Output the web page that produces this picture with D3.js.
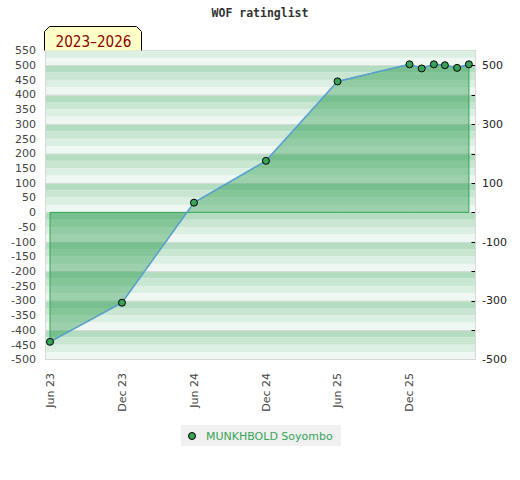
<!DOCTYPE html>
<html><head><meta charset="utf-8">
<script src="https://cdn.jsdelivr.net/npm/d3@7"></script>
<style>body{margin:0;background:#fff}svg{display:block}</style>
</head><body>
<script>
const title = "WOF ratinglist";
const periodLabel = "2023\u20132026";
const seriesName = "MUNKHBOLD Soyombo";
const dates = ["2023-06","2023-12","2024-06","2024-12","2025-06","2025-12","2026-01","2026-02","2026-03","2026-04","2026-05"];
const ratings = [-440, -307, 33, 175, 445, 503, 489, 503, 500, 491, 503];
const leftTicks = d3.range(-500, 551, 50);
const rightLabelTicks = [500, 300, 100, -100, -300, -500];
const rightMarkTicks = [500, 400, 300, 200, 100, 0, -100, -200, -300, -400];
const xTickDates = ["2023-06","2023-12","2024-06","2024-12","2025-06","2025-12"];
const xTickLabels = ["Jun 23","Dec 23","Jun 24","Dec 24","Jun 25","Dec 25"];

const W = 520, H = 480;
const plot = {l: 45, r: 476, t: 50.5, b: 359.5};
const parse = d3.timeParse("%Y-%m");
const svg = d3.select("body").append("svg").attr("width", W).attr("height", H);

const x = d3.scaleTime().domain([parse("2023-06"), parse("2025-12")]).range([50, 409.5]);
const y = d3.scaleLinear().domain([-500, 550]).range([plot.b, plot.t]);

// stripes
const bandColors = {0: "#b3dcc1", 75: "#c8e6d2", 50: "#dcefe3", 25: "#eef7f1"};
const bands = d3.range(550, -500, -25);
svg.append("g").selectAll("rect").data(bands).join("rect")
  .attr("x", plot.l).attr("width", plot.r - plot.l)
  .attr("y", d => y(d)).attr("height", d => y(d - 25) - y(d))
  .attr("fill", d => bandColors[((d % 100) + 100) % 100]);

// grid lines
svg.append("g").selectAll("line").data(d3.range(-400, 501, 100)).join("line")
  .attr("x1", plot.l).attr("x2", plot.r)
  .attr("y1", d => Math.round(y(d)) + 0.5).attr("y2", d => Math.round(y(d)) + 0.5)
  .attr("stroke", "#d4dcd6").attr("stroke-width", 1);

// frame
svg.append("rect").attr("x", plot.l + 0.5).attr("y", plot.t).attr("width", plot.r - plot.l - 1).attr("height", plot.b - plot.t)
  .attr("fill", "none").attr("stroke", "#d8d8d8");

const pts = dates.map((d, i) => ({date: parse(d), v: ratings[i]}));

// area
const area = d3.area().x(d => x(d.date)).y0(y(0)).y1(d => y(d.v));
svg.append("path")
  .attr("d", area(pts) + "Z")
  .attr("fill", "rgb(15,142,54)").attr("fill-opacity", 0.36)
  .attr("stroke", "#2ea84e").attr("stroke-width", 1);

// line
svg.append("path").datum(pts)
  .attr("d", d3.line().x(d => x(d.date)).y(d => y(d.v)))
  .attr("fill", "none").attr("stroke", "#5a9fd6").attr("stroke-width", 1.5);

// points
svg.append("g").selectAll("circle").data(pts).join("circle")
  .attr("cx", d => x(d.date)).attr("cy", d => y(d.v)).attr("r", 3.5)
  .attr("fill", "#3aa35a").attr("stroke", "#000").attr("stroke-width", 1);

// left axis labels
svg.append("g").selectAll("text").data(leftTicks).join("text")
  .attr("x", 36).attr("y", d => y(d)).attr("dy", "0.35em")
  .attr("text-anchor", "end").attr("font-family", "DejaVu Sans").attr("font-size", 11)
  .attr("fill", "#444").text(d => d);

// right axis
svg.append("g").selectAll("line").data(rightMarkTicks).join("line")
  .attr("x1", 471.5).attr("x2", 475)
  .attr("y1", d => Math.round(y(d)) + 0.5).attr("y2", d => Math.round(y(d)) + 0.5)
  .attr("stroke", "#000").attr("stroke-width", 1);
svg.append("g").selectAll("text").data(rightLabelTicks).join("text")
  .attr("x", 482).attr("y", d => y(d)).attr("dy", "0.35em")
  .attr("text-anchor", "start").attr("font-family", "DejaVu Sans").attr("font-size", 11)
  .attr("fill", "#222").text(d => d);

// x axis labels
svg.append("g").selectAll("text").data(xTickDates).join("text")
  .attr("transform", d => `translate(${x(parse(d))},373) rotate(-90)`)
  .attr("dy", "0.35em").attr("text-anchor", "end")
  .attr("font-family", "DejaVu Sans").attr("font-size", 11).attr("fill", "#444")
  .text((d, i) => xTickLabels[i]);

// title
svg.append("text").attr("x", 260).attr("y", 17).attr("text-anchor", "middle")
  .attr("font-family", "DejaVu Sans Mono").attr("font-weight", "bold").attr("font-size", 11.5)
  .attr("fill", "#333").text(title);

// period label box
const bx0 = 44.5, bx1 = 141.5, by0 = 26.5, by1 = 50.5, c = 5;
svg.append("path")
  .attr("d", `M${bx0},${by1} L${bx0},${by0 + c} L${bx0 + c},${by0} L${bx1 - c},${by0} L${bx1},${by0 + c} L${bx1},${by1}`)
  .attr("fill", "#ffffc8").attr("stroke", "#000").attr("stroke-width", 1);
svg.append("text").attr("x", 93.5).attr("y", 46.5).attr("text-anchor", "middle")
  .attr("font-family", "DejaVu Sans").attr("font-size", 15.5).attr("fill", "#8b0000")
  .attr("textLength", 76).attr("lengthAdjust", "spacingAndGlyphs")
  .text(periodLabel);

// legend
const lg = svg.append("g");
lg.append("rect").attr("x", 181).attr("y", 425).attr("width", 160).attr("height", 21).attr("fill", "#f0f0f0");
lg.append("circle").attr("cx", 192).attr("cy", 436).attr("r", 3.5)
  .attr("fill", "#3aa35a").attr("stroke", "#000").attr("stroke-width", 1);
lg.append("text").attr("x", 206).attr("y", 436).attr("dy", "0.35em")
  .attr("font-family", "DejaVu Sans").attr("font-size", 11).attr("fill", "#3aa35a")
  .text(seriesName);
</script>
</body></html>
